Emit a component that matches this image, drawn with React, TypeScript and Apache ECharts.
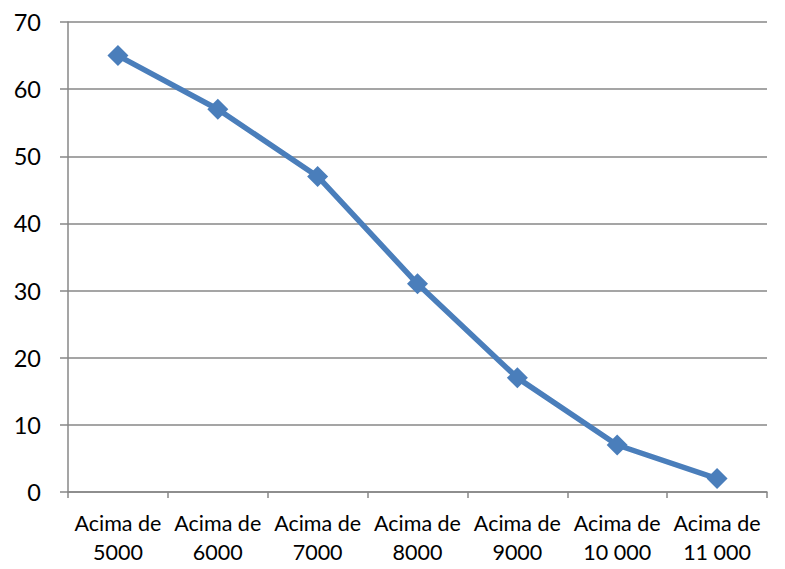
import * as echarts from 'echarts'
import { useEffect, useRef } from 'react'

const categories = [
  'Acima de\n5000',
  'Acima de\n6000',
  'Acima de\n7000',
  'Acima de\n8000',
  'Acima de\n9000',
  'Acima de\n10 000',
  'Acima de\n11 000',
]
const values = [65, 57, 47, 31, 17, 7, 2]
const yMin = 0
const yMax = 70
const yStep = 10

const gridGray = '#878787'
const lineBlue = '#4a7ebb'

export default function App() {
  const ref = useRef<HTMLDivElement | null>(null)

  useEffect(() => {
    document.body.style.margin = '0'
    if (!ref.current) return
    const chart = echarts.init(ref.current, undefined, { renderer: 'svg' })
    chart.setOption({
      animation: false,
      backgroundColor: '#ffffff',
      textStyle: { fontFamily: 'Lato', color: '#000000' },
      grid: { left: 68, right: 18, top: 22, bottom: 77, containLabel: false },
      xAxis: {
        type: 'category',
        data: categories,
        boundaryGap: true,
        axisLine: { lineStyle: { color: gridGray, width: 1.5 } },
        axisTick: { show: true, length: 6, alignWithLabel: false, lineStyle: { color: gridGray, width: 1.5 } },
        axisLabel: {
          color: '#000000',
          fontSize: 21.5,
          lineHeight: 29,
          margin: 16,
          interval: 0,
          hideOverlap: false,
          fontFamily: 'Lato',
        },
      },
      yAxis: {
        type: 'value',
        min: yMin,
        max: yMax,
        interval: yStep,
        axisLine: { show: true, lineStyle: { color: gridGray, width: 1.5 } },
        axisTick: { show: true, length: 8, lineStyle: { color: gridGray, width: 1.5 } },
        splitLine: { show: true, lineStyle: { color: gridGray, width: 1.5 } },
        axisLabel: { color: '#000000', fontSize: 23.5, margin: 27, fontFamily: 'Lato' },
      },
      series: [
        {
          type: 'line',
          data: values,
          symbol: 'diamond',
          symbolSize: 21,
          itemStyle: { color: lineBlue },
          lineStyle: { color: lineBlue, width: 5.5 },
        },
      ],
    })
    return () => chart.dispose()
  }, [])

  return <div ref={ref} style={{ width: 785, height: 569 }} />
}
